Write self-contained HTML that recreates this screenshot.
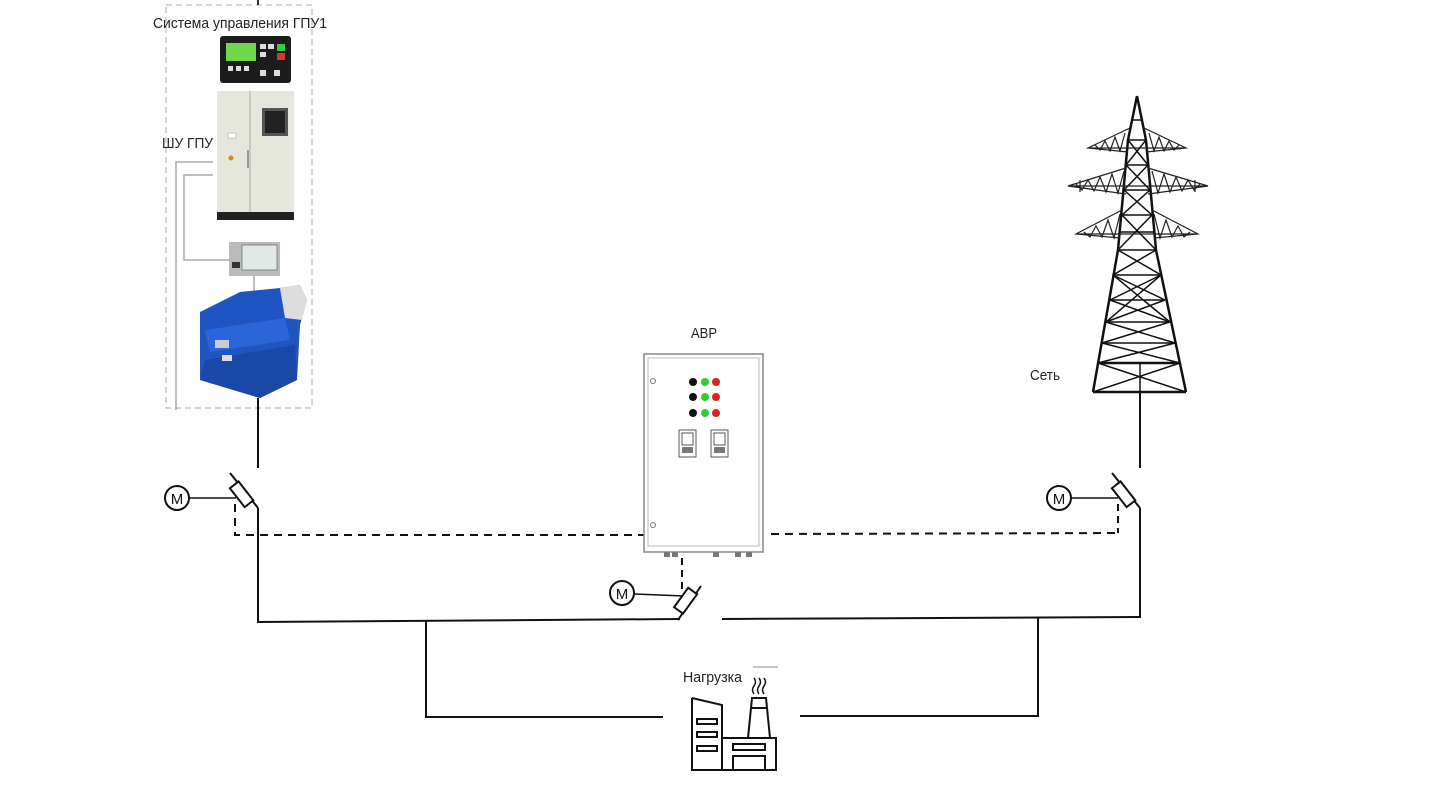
<!DOCTYPE html>
<html><head><meta charset="utf-8"><style>
body{margin:0;background:#fff;}
svg{display:block;font-family:"Liberation Sans",sans-serif;}
text{font-family:"Liberation Sans","Noto Sans CJK SC",sans-serif;}
</style></head><body>
<svg width="1440" height="810" viewBox="0 0 1440 810" xmlns="http://www.w3.org/2000/svg">
<!-- GPU dashed box -->
<rect x="166" y="5" width="146" height="403" fill="none" stroke="#bbb" stroke-dasharray="6,4" stroke-width="1.2"/>
<line x1="258" y1="0" x2="258" y2="5" stroke="#333" stroke-width="2"/>
<text x="153" y="28" font-size="15" textLength="174" lengthAdjust="spacingAndGlyphs" fill="#222">Система управления ГПУ1</text>
<!-- controller -->
<rect x="220" y="36" width="71" height="47" rx="3" fill="#1c1c1c"/>
<rect x="226" y="43" width="30" height="18" fill="#6fd84a"/>
<rect x="260" y="44" width="6" height="5" fill="#ddd"/><rect x="268" y="44" width="6" height="5" fill="#ddd"/><rect x="277" y="44" width="8" height="7" fill="#3c3"/>
<rect x="260" y="52" width="6" height="5" fill="#ddd"/><rect x="277" y="53" width="8" height="7" fill="#d33"/>
<rect x="228" y="66" width="5" height="5" fill="#ddd"/><rect x="236" y="66" width="5" height="5" fill="#ddd"/><rect x="244" y="66" width="5" height="5" fill="#ddd"/>
<rect x="260" y="70" width="6" height="6" fill="#ddd"/><rect x="274" y="70" width="6" height="6" fill="#ddd"/>
<!-- cabinet -->
<rect x="217" y="91" width="77" height="129" fill="#e6e7dc"/>
<rect x="217" y="212" width="77" height="8" fill="#222"/>
<line x1="250" y1="91" x2="250" y2="212" stroke="#aaa"/>
<rect x="262" y="108" width="26" height="28" fill="#555"/><rect x="265" y="111" width="20" height="22" fill="#222"/>
<rect x="228" y="133" width="8" height="5" fill="#fff" stroke="#999" stroke-width=".5"/>
<circle cx="231" cy="158" r="2.5" fill="#d80"/>
<line x1="248" y1="150" x2="248" y2="168" stroke="#999" stroke-width="2"/>
<text x="162" y="148" font-size="15" textLength="51" lengthAdjust="spacingAndGlyphs" fill="#222">ШУ ГПУ</text>
<!-- gray wires -->
<polyline points="213,162 176,162 176,410" fill="none" stroke="#aaa" stroke-width="1.5"/>
<polyline points="213,175 184,175 184,260 229,260" fill="none" stroke="#aaa" stroke-width="1.5"/>
<line x1="254" y1="276" x2="254" y2="295" stroke="#aaa" stroke-width="1.5"/>
<!-- HMI -->
<rect x="229" y="242" width="51" height="34" fill="#bbb"/>
<rect x="242" y="245" width="35" height="25" fill="#e0e8e8" stroke="#555" stroke-width=".6"/>
<rect x="232" y="262" width="8" height="6" fill="#333"/>
<!-- generator -->
<path d="M200 312 L240 292 L280 288 L300 285 L307 300 L300 325 L297 380 L260 398 L200 380 Z" fill="#1f55c0"/>
<path d="M280 288 L300 285 L307 300 L302 320 L285 318 Z" fill="#ddd"/>
<path d="M205 330 L285 318 L290 340 L210 352Z" fill="#2a66d8"/>
<path d="M205 360 L295 345 L297 380 L260 398 L200 380Z" fill="#1a48a8"/>
<rect x="215" y="340" width="14" height="8" fill="#ccc"/>
<rect x="222" y="355" width="10" height="6" fill="#ddd"/>
<line x1="258" y1="398" x2="258" y2="468" stroke="#111" stroke-width="2"/>

<!-- left switch -->
<circle cx="177" cy="498" r="12" fill="#fff" stroke="#111" stroke-width="2"/>
<text x="177" y="504" font-size="15" text-anchor="middle" fill="#111">M</text>
<line x1="189" y1="498" x2="236" y2="498" stroke="#111" stroke-width="1.5"/>
<line x1="230" y1="473" x2="258" y2="508" stroke="#111" stroke-width="2"/>
<rect x="-6" y="-12" width="11" height="24" transform="translate(242,494) rotate(-38)" fill="#fff" stroke="#111" stroke-width="2"/>
<polyline points="235,504 235,535 645,535" fill="none" stroke="#111" stroke-width="2" stroke-dasharray="8,6"/>
<line x1="258" y1="508" x2="258" y2="622" stroke="#111" stroke-width="2"/>
<line x1="257" y1="622" x2="680" y2="619" stroke="#111" stroke-width="2"/>

<!-- AVR -->
<text x="691" y="338" font-size="15" textLength="26" lengthAdjust="spacingAndGlyphs" fill="#222">АВР</text>
<rect x="644" y="354" width="119" height="198" fill="#fff" stroke="#888" stroke-width="1.5"/>
<rect x="648" y="358" width="111" height="188" fill="none" stroke="#bbb" stroke-width="1"/>
<circle cx="653" cy="381" r="2.5" fill="#fff" stroke="#777"/>
<circle cx="653" cy="525" r="2.5" fill="#fff" stroke="#777"/>
<g>
<circle cx="693" cy="382" r="4" fill="#111"/><circle cx="705" cy="382" r="4" fill="#3c3"/><circle cx="716" cy="382" r="4" fill="#d22"/>
<circle cx="693" cy="397" r="4" fill="#111"/><circle cx="705" cy="397" r="4" fill="#3c3"/><circle cx="716" cy="397" r="4" fill="#d22"/>
<circle cx="693" cy="413" r="4" fill="#111"/><circle cx="705" cy="413" r="4" fill="#3c3"/><circle cx="716" cy="413" r="4" fill="#d22"/>
</g>
<rect x="679" y="430" width="17" height="27" fill="#fff" stroke="#555"/><rect x="682" y="433" width="11" height="12" fill="#fff" stroke="#555"/><rect x="682" y="447" width="11" height="6" fill="#777"/>
<rect x="711" y="430" width="17" height="27" fill="#fff" stroke="#555"/><rect x="714" y="433" width="11" height="12" fill="#fff" stroke="#555"/><rect x="714" y="447" width="11" height="6" fill="#777"/>
<g fill="#777"><rect x="664" y="552" width="6" height="5"/><rect x="672" y="552" width="6" height="5"/><rect x="713" y="552" width="6" height="5"/><rect x="735" y="552" width="6" height="5"/><rect x="746" y="552" width="6" height="5"/></g>
<line x1="682" y1="558" x2="682" y2="594" stroke="#111" stroke-width="2" stroke-dasharray="7,5"/>
<line x1="771" y1="534" x2="1118" y2="533" stroke="#111" stroke-width="2" stroke-dasharray="8,6"/>

<!-- center switch -->
<circle cx="622" cy="593" r="12" fill="#fff" stroke="#111" stroke-width="2"/>
<text x="622" y="599" font-size="15" text-anchor="middle" fill="#111">M</text>
<line x1="634" y1="594" x2="684" y2="596" stroke="#111" stroke-width="1.5"/>
<line x1="678" y1="620" x2="701" y2="586" stroke="#111" stroke-width="2"/>
<rect x="-6" y="-12" width="11" height="24" transform="translate(686,601) rotate(36)" fill="#fff" stroke="#111" stroke-width="2"/>
<line x1="722" y1="619" x2="1140" y2="617" stroke="#111" stroke-width="2"/>

<!-- right switch -->
<circle cx="1059" cy="498" r="12" fill="#fff" stroke="#111" stroke-width="2"/>
<text x="1059" y="504" font-size="15" text-anchor="middle" fill="#111">M</text>
<line x1="1071" y1="498" x2="1118" y2="498" stroke="#111" stroke-width="1.5"/>
<line x1="1112" y1="473" x2="1140" y2="508" stroke="#111" stroke-width="2"/>
<rect x="-6" y="-12" width="11" height="24" transform="translate(1124,494) rotate(-38)" fill="#fff" stroke="#111" stroke-width="2"/>
<polyline points="1118,504 1118,533" fill="none" stroke="#111" stroke-width="2" stroke-dasharray="7,5"/>
<line x1="1140" y1="508" x2="1140" y2="618" stroke="#111" stroke-width="2"/>
<line x1="1140" y1="392" x2="1140" y2="468" stroke="#111" stroke-width="2"/>
<text x="1030" y="380" font-size="15" textLength="30" lengthAdjust="spacingAndGlyphs" fill="#222">Сеть</text>

<!-- tower -->
<g stroke="#111" fill="none" stroke-width="2.5">
<path d="M1137 96 L1128 140 L1118 250 L1093 392 M1137 96 L1146 140 L1156 250 L1186 392"/>
<path d="M1093 392 L1186 392 M1098 363 L1180 363"/>
</g>
<g stroke="#111" fill="none" stroke-width="1.5">
<path d="M1118 250 L1156 250 M1113 275 L1161 275 M1110 300 L1165 300 M1106 322 L1170 322 M1102 343 L1175 343"/>
<path d="M1118 250 L1161 275 L1106 322 L1175 343 M1156 250 L1113 275 L1170 322 L1102 343"/>
<path d="M1113 275 L1165 300 M1161 275 L1110 300 M1110 300 L1170 322 M1165 300 L1106 322 M1102 343 L1180 363 M1175 343 L1098 363"/>
<path d="M1098 363 L1186 392 M1180 363 L1093 392 M1140 363 L1140 392"/>
<path d="M1128 140 L1146 140 M1126 165 L1148 165 M1124 190 L1150 190 M1122 215 L1152 215 M1120 232 L1154 232"/>
<path d="M1128 140 L1148 165 L1124 190 L1152 215 L1118 250 M1146 140 L1126 165 L1150 190 L1122 215 L1156 250 M1132 120 L1142 120"/>
</g>
<g stroke="#222" fill="none" stroke-width="1.2">
<path d="M1130 128 L1088 148 L1128 152 M1144 128 L1186 148 L1146 152 M1088 148 L1186 148"/>
<path d="M1095 145 L1100 150 L1105 141 L1110 151 L1115 137 L1120 151 L1125 133 M1179 145 L1174 150 L1169 141 L1164 151 L1159 137 L1154 151 L1149 133"/>
<path d="M1126 168 L1068 186 L1126 194 M1148 168 L1208 186 L1148 194 M1068 186 L1208 186 M1080 180 L1080 192 M1195 180 L1195 192"/>
<path d="M1076 184 L1082 190 L1088 180 L1094 191 L1100 177 L1106 192 L1112 174 L1118 193 L1124 171 M1200 184 L1194 190 L1188 180 L1182 191 L1176 177 L1170 192 L1164 174 L1158 193 L1152 171"/>
<path d="M1122 210 L1076 234 L1120 238 M1152 210 L1198 234 L1154 238 M1076 234 L1198 234"/>
<path d="M1084 232 L1090 237 L1096 226 L1102 237 L1108 220 L1114 238 L1120 214 M1190 232 L1184 237 L1178 226 L1172 237 L1166 220 L1160 238 L1154 214"/>
</g>

<!-- load lines -->
<polyline points="426,620 426,717 663,717" fill="none" stroke="#111" stroke-width="2"/>
<polyline points="800,716 1038,716 1038,618" fill="none" stroke="#111" stroke-width="2"/>
<line x1="753" y1="667" x2="778" y2="667" stroke="#888" stroke-width="1"/>
<text x="683" y="682" font-size="15" textLength="59" lengthAdjust="spacingAndGlyphs" fill="#222">Нагрузка</text>
<!-- factory -->
<g stroke="#111" stroke-width="2" fill="none">
<path d="M692 698 L692 770 L776 770 L776 738 L723 738 M692 698 L722 705 L722 770"/>
<path d="M748 738 L752 698 L766 698 L770 738 M751 708 L767 708"/>
<rect x="697" y="719" width="20" height="5"/><rect x="697" y="732" width="20" height="5"/><rect x="697" y="746" width="20" height="5"/>
<rect x="733" y="744" width="32" height="6"/><path d="M733 770 L733 756 L765 756 L765 770"/>
<path d="M754 694 q-3 -4 0 -8 q3 -4 0 -8 M759 694 q-3 -4 0 -8 q3 -4 0 -8 M764 694 q-3 -4 0 -8 q3 -4 0 -8" stroke-width="1.5"/>
</g>
</svg>
</body></html>
